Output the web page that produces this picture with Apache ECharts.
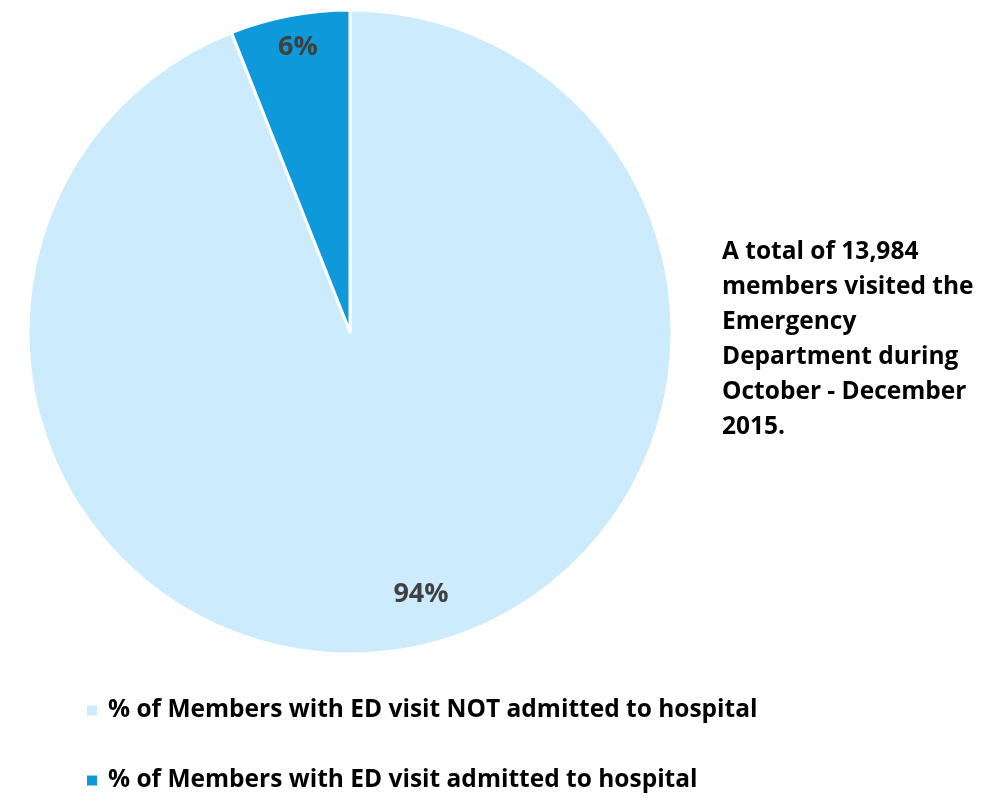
<!DOCTYPE html>
<html>
<head>
<meta charset="utf-8">
<script src="https://cdn.jsdelivr.net/npm/echarts@6/dist/echarts.min.js"></script>
<style>
  html, body { margin: 0; padding: 0; background: #fff; }
  #chart { width: 995px; height: 802px; }
</style>
</head>
<body>
<div id="chart"></div>
<script>
// data
const categories = [
    '% of Members with ED visit NOT admitted to hospital',
    '% of Members with ED visit admitted to hospital'
];
const values = [94, 6];
const colors = ['#CCEBFC', '#0E9ADA'];
const noteText = 'A total of 13,984\nmembers visited the\nEmergency\nDepartment during\nOctober - December\n2015.';

// where the percent labels sit (pixels)
const labelSpots = [[421, 594], [298, 47]];

const FONT = 'Open Sans';
const myChart = echarts.init(document.getElementById('chart'));

let option = {
    animation: false,
    color: colors,
    title: {
        text: noteText,
        left: 717,
        top: 230,
        textStyle: {
            fontFamily: FONT,
            fontWeight: 'bold',
            fontSize: 24.5,
            lineHeight: 35,
            color: '#000'
        }
    },
    legend: {
        orient: 'vertical',
        left: 80,
        top: 693,
        icon: 'rect',
        itemWidth: 12,
        itemHeight: 12,
        itemGap: 45,
        data: categories,
        textStyle: {
            fontFamily: FONT,
            fontWeight: 'bold',
            fontSize: 24.5,
            color: '#000',
            padding: [0, 0, 0, 5]
        }
    },
    series: [{
        type: 'pie',
        center: [350, 332],
        radius: [0, 322],
        startAngle: 90,
        clockwise: true,
        silent: true,
        itemStyle: {
            borderColor: '#fff',
            borderWidth: 3
        },
        label: {
            show: true,
            position: 'inside',
            formatter: '{d}%',
            fontFamily: FONT,
            fontWeight: 'bold',
            fontSize: 27,
            color: '#404040'
        },
        labelLine: { show: false },
        labelLayout: function (params) {
            const p = labelSpots[params.dataIndex];
            return { x: p[0], y: p[1], align: 'center', verticalAlign: 'middle' };
        },
        data: categories.map((name, i) => ({ name: name, value: values[i] }))
    }]
};

myChart.setOption(option);
</script>
</body>
</html>
